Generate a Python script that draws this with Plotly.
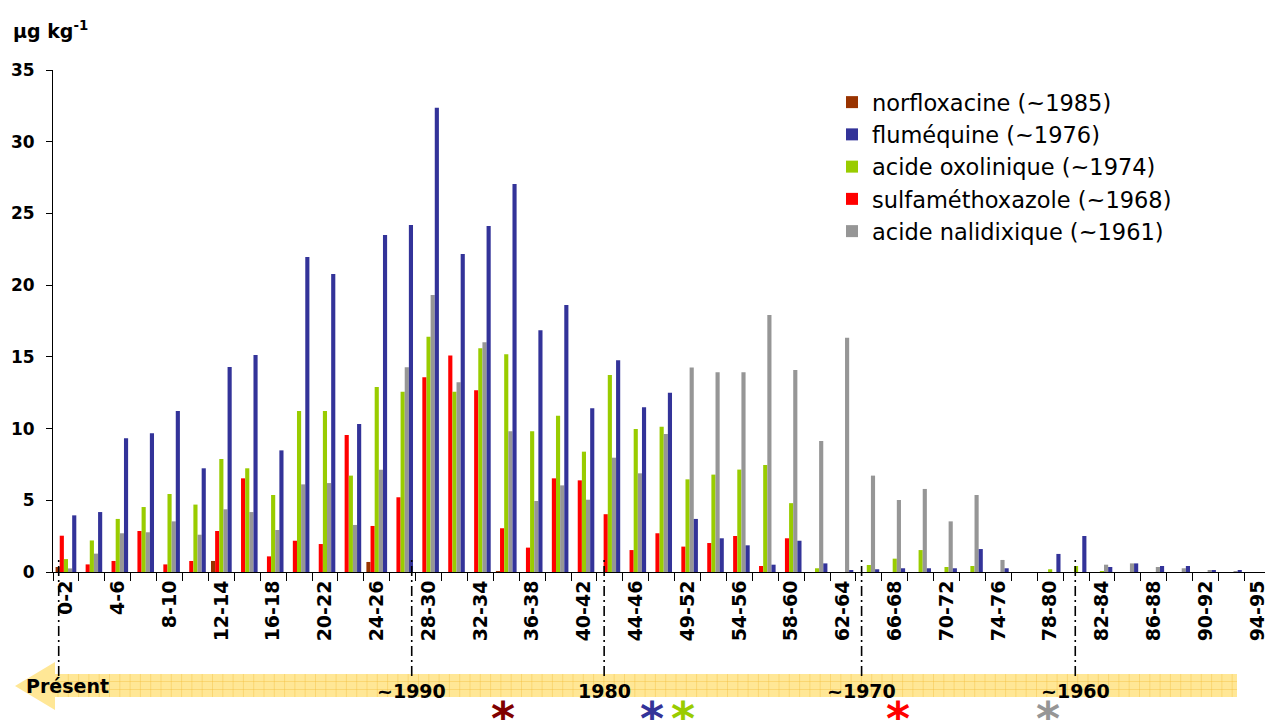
import plotly.graph_objects as go

# ---------------- data ----------------
categories = ["0-2", "2-4", "4-6", "6-8", "8-10", "10-12", "12-14", "14-16", "16-18", "18-20",
              "20-22", "22-24", "24-26", "26-28", "28-30", "30-32", "32-34", "34-36", "36-38", "38-40",
              "40-42", "42-44", "44-46", "46-49", "49-52", "52-54", "54-56", "56-58", "58-60", "60-62",
              "62-64", "64-66", "66-68", "68-70", "70-72", "72-74", "74-76", "76-78", "78-80", "80-82",
              "82-84", "84-86", "86-88", "88-90", "90-92", "92-94", "94-95"]

norfloxacine = [0.35, 0, 0, 0, 0, 0, 0.77, 0, 0, 0,
                0, 0, 0.7, 0, 0, 0, 0, 0.07, 0, 0,
                0, 0, 0, 0, 0, 0, 0, 0, 0, 0,
                0, 0, 0, 0, 0, 0, 0, 0, 0, 0,
                0, 0, 0, 0, 0, 0, 0]
sulfamethoxazole = [2.53, 0.53, 0.77, 2.86, 0.53, 0.77, 2.86, 6.53, 1.09, 2.18,
                    1.95, 9.55, 3.21, 5.21, 13.57, 15.09, 12.67, 3.05, 1.7, 6.53,
                    6.39, 4.03, 1.53, 2.7, 1.77, 2.02, 2.51, 0.42, 2.35, 0,
                    0, 0, 0, 0, 0, 0, 0, 0, 0, 0,
                    0, 0, 0, 0, 0, 0, 0]
oxolinique = [0.9, 2.2, 3.7, 4.53, 5.44, 4.7, 7.88, 7.23, 5.37, 11.23,
              11.23, 6.72, 12.9, 12.57, 16.41, 12.57, 15.6, 15.18, 9.81, 10.9,
              8.39, 13.74, 9.97, 10.13, 6.46, 6.79, 7.14, 7.46, 4.8, 0.26,
              0, 0.49, 0.93, 1.53, 0.35, 0.42, 0, 0, 0.19, 0.42,
              0.07, 0, 0, 0, 0, 0, 0]
nalidixique = [0.25, 1.28, 2.7, 2.77, 3.53, 2.6, 4.37, 4.18, 2.93, 6.11,
               6.2, 3.28, 7.13, 14.27, 19.32, 13.23, 16.02, 9.81, 4.95, 6.04,
               5.04, 7.97, 6.88, 9.62, 14.25, 13.92, 13.92, 17.92, 14.09, 9.13,
               16.34, 6.72, 5.02, 5.79, 3.53, 5.37, 0.84, 0, 0, 0,
               0.51, 0.6, 0.35, 0.26, 0.09, 0.05, 0]
flumequine = [3.95, 4.18, 9.32, 9.67, 11.23, 7.23, 14.3, 15.13, 8.48, 21.97,
              20.78, 10.32, 23.5, 24.2, 32.36, 22.18, 24.13, 27.06, 16.85, 18.62,
              11.41, 14.76, 11.48, 12.5, 3.7, 2.35, 1.86, 0.51, 2.18, 0.6,
              0.09, 0.19, 0.26, 0.26, 0.26, 1.6, 0.26, 0, 1.26, 2.51,
              0.35, 0.6, 0.42, 0.42, 0.09, 0.09, 0]

series_names = ["norfloxacine (~1985)", "sulfaméthoxazole (~1968)", "acide oxolinique (~1974)",
                "acide nalidixique (~1961)", "fluméquine (~1976)"]
series_values = [norfloxacine, sulfamethoxazole, oxolinique, nalidixique, flumequine]
series_colors = ["#993300", "#FF0000", "#99CC00", "#969696", "#333399"]
legend_ranks = [1, 4, 3, 5, 2]

tick_labels = [c if i % 2 == 0 else "" for i, c in enumerate(categories)]

# timeline (positions in category index units)
timeline_labels = ["~1990", "1980", "~1970", "~1960"]
timeline_pos = [13.35, 20.78, 30.72, 38.97]
present_pos = -0.28
asterisk_pos = [16.86, 22.61, 23.81, 32.11, 37.90]
asterisk_colors = ["#800000", "#333399", "#99CC00", "#FF0000", "#969696"]

# ---------------- geometry ----------------
W, H = 1265, 720
L, R, T, B = 53, 0, 70, 148
PW = W - L - R
PH = H - T - B
CAT_PX = 25.9
x_max = -0.5 + PW / CAT_PX


def px_x(px):
    return (px - L) / PW


def px_y(py):
    return (T + PH - py) / PH


FONT = "DejaVu Sans"

fig = go.Figure()
for name, vals, col, rank in zip(series_names, series_values, series_colors, legend_ranks):
    fig.add_trace(go.Bar(x=categories, y=vals, name=name, marker_color=col,
                         marker_line_width=0, legendrank=rank))

shapes = []
# timeline band with arrow head
band_top, band_bot, mid = 674, 697, 686
path = (f"M {px_x(15)},{px_y(mid)} L {px_x(55)},{px_y(662)} L {px_x(55)},{px_y(band_top)} "
        f"L {px_x(1237)},{px_y(band_top)} L {px_x(1237)},{px_y(band_bot)} L {px_x(55)},{px_y(band_bot)} "
        f"L {px_x(55)},{px_y(710)} Z")
shapes.append(dict(type="path", xref="paper", yref="paper", path=path,
                   fillcolor="#FFE796", line=dict(width=0), layer="below"))
grid = []
gx = 58
while gx < 1237:
    grid.append(f"M {px_x(gx)},{px_y(band_top)} L {px_x(gx)},{px_y(band_bot)}")
    gx += 10.3
for gy in (681.5, 689.5):
    grid.append(f"M {px_x(55)},{px_y(gy)} L {px_x(1237)},{px_y(gy)}")
shapes.append(dict(type="path", xref="paper", yref="paper", path=" ".join(grid),
                   line=dict(color="rgba(240,185,50,0.45)", width=0.8), layer="below"))

# dash-dot vertical lines
for pos in [present_pos] + timeline_pos:
    shapes.append(dict(type="line", xref="x", yref="paper", x0=pos, x1=pos,
                       y0=px_y(676), y1=px_y(557),
                       line=dict(color="black", width=1.6, dash="10px,4px,2px,4px")))

annotations = []
annotations.append(dict(text="<b>µg kg<sup>-1</sup></b>", xref="paper", yref="paper",
                        x=px_x(11), y=px_y(30), xanchor="left", yanchor="middle",
                        showarrow=False, font=dict(family=FONT, size=19, color="black")))
annotations.append(dict(text="<b>Présent</b>", xref="paper", yref="paper",
                        x=px_x(24), y=px_y(686), xanchor="left", yanchor="middle",
                        showarrow=False, font=dict(family=FONT, size=19, color="black")))
for lab, pos in zip(timeline_labels, timeline_pos):
    annotations.append(dict(text=f"<b>{lab}</b>", xref="x", yref="paper",
                            x=pos, y=px_y(691), xanchor="center", yanchor="middle",
                            showarrow=False, font=dict(family=FONT, size=19, color="black")))
for pos, col in zip(asterisk_pos, asterisk_colors):
    annotations.append(dict(text="<b>*</b>", xref="x", yref="paper",
                            x=pos, y=px_y(719), xanchor="center", yanchor="middle",
                            showarrow=False, font=dict(family=FONT, size=46, color=col)))

fig.update_layout(
    width=W, height=H,
    margin=dict(l=L, r=R, t=T, b=B, autoexpand=False),
    paper_bgcolor="white", plot_bgcolor="white",
    barmode="group", bargap=0.2, bargroupgap=0,
    font=dict(family=FONT, color="black"),
    showlegend=True,
    legend=dict(x=px_x(832), y=px_y(81), xanchor="left", yanchor="top",
                font=dict(family=FONT, size=22.5, color="black"),
                bgcolor="rgba(0,0,0,0)", itemwidth=30, tracegroupgap=0),
    xaxis=dict(type="category", categoryorder="array", categoryarray=categories,
               range=[-0.5, x_max], tickmode="array", tickvals=categories, ticktext=tick_labels,
               tickson="boundaries", ticks="outside", ticklen=8, tickcolor="black",
               tickangle=-90, tickfont=dict(family=FONT, size=19, color="black", weight="bold"),
               showline=True, linecolor="black", linewidth=1, showgrid=False, zeroline=False,
               automargin=False),
    yaxis=dict(range=[0, 35], dtick=5, tick0=0, ticks="outside", ticklen=6, tickcolor="black",
               tickfont=dict(family=FONT, size=17, color="black", weight="bold"),
               ticklabelstandoff=8,
               showline=True, linecolor="black", linewidth=1, showgrid=False, zeroline=False,
               automargin=False),
    shapes=shapes, annotations=annotations,
)

fig.write_html("out.html")
